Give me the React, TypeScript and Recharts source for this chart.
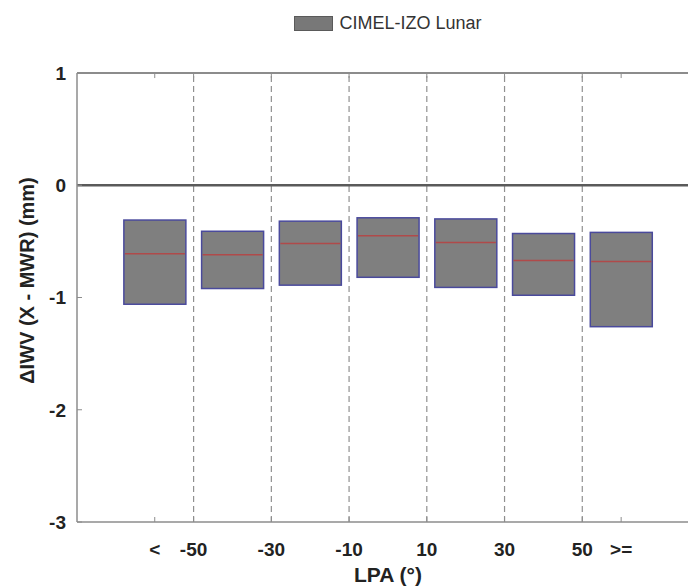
import React from "react";
import { Bar, ComposedChart, Label, Legend, ReferenceLine, XAxis, YAxis } from "recharts";

// LPA bins (centres), box edges (25th / 75th percentile) and medians, in mm
const LPA_CENTERS = [-60, -40, -20, 0, 20, 40, 60];
const BOX_LOWER = [-1.06, -0.92, -0.89, -0.82, -0.91, -0.98, -1.26];
const BOX_UPPER = [-0.31, -0.41, -0.32, -0.29, -0.3, -0.43, -0.42];
const BOX_MEDIAN = [-0.61, -0.62, -0.52, -0.45, -0.51, -0.67, -0.68];

const X_TICKS = [-60, -50, -30, -10, 10, 30, 50, 60];
const X_TICK_LABELS = ["<", "-50", "-30", "-10", "10", "30", "50", ">="];
const BIN_EDGES = [-50, -30, -10, 10, 30, 50];
const Y_TICKS = [-3, -2, -1, 0, 1];
// the original axes run to +80; the figure is cropped at ~77
const X_DOMAIN = [-80, 77.2];
const Y_DOMAIN = [-3, 1];
const SERIES_NAME = "CIMEL-IZO Lunar";

const data = LPA_CENTERS.map((lpa, i) => ({
  lpa,
  box: [BOX_LOWER[i], BOX_UPPER[i]],
  median: BOX_MEDIAN[i],
}));

const FONT = "'Liberation Sans', Arial, Helvetica, sans-serif";
const AXIS_COLOR = "#8c8c8c";
const TEXT_COLOR = "#222";
const TOP_TICK_LEN = 0.045; // in y units, ~5px
const CHART_W = 688;

const BoxShape = (props: any) => {
  const { x, y, width, height, payload } = props;
  const [lo, hi] = payload.box;
  const my = y + ((hi - payload.median) / (hi - lo)) * height;
  return (
    <g>
      <rect x={x} y={y} width={width} height={height} fill="#7f7f7f" stroke="#4a4a9c" strokeWidth={1.5} />
      <line x1={x + 1} x2={x + width - 1} y1={my} y2={my} stroke="#b04a4a" strokeWidth={1.5} />
    </g>
  );
};

// bottom axis: inward tick mark + label
const BottomTick = (props: any) => {
  const { x, y, payload } = props;
  const label = X_TICK_LABELS[X_TICKS.indexOf(payload.value)];
  return (
    <g>
      <line x1={x} x2={x} y1={y} y2={y - 5} stroke={AXIS_COLOR} strokeWidth={1} />
      <text x={x} y={y + 34} textAnchor="middle" fontFamily={FONT} fontSize={19} fontWeight="bold" fill={TEXT_COLOR}>
        {label}
      </text>
    </g>
  );
};

const LeftTick = (props: any) => {
  const { x, y, payload } = props;
  return (
    <g>
      <line x1={x} x2={x + 5} y1={y} y2={y} stroke={AXIS_COLOR} strokeWidth={1} />
      <text x={x - 11} y={y} dy="0.36em" textAnchor="end" fontFamily={FONT} fontSize={19} fontWeight="bold" fill={TEXT_COLOR}>
        {payload.value}
      </text>
    </g>
  );
};

// y title, plus the top edge of the axes box drawn from the axis frame
const YTitle = (props: any) => {
  const { viewBox } = props;
  const cx = viewBox.x + 27;
  const cy = viewBox.y + viewBox.height / 2 - 17;
  const right = viewBox.x + viewBox.width;
  return (
    <g>
      <line x1={right} x2={CHART_W} y1={viewBox.y} y2={viewBox.y} stroke={AXIS_COLOR} strokeWidth={1.5} />
      <text
        x={cx}
        y={cy}
        transform={`rotate(-90, ${cx}, ${cy})`}
        textAnchor="middle"
        dominantBaseline="central"
        fontFamily={FONT}
        fontSize={20}
        fontWeight="bold"
        fill={TEXT_COLOR}
      >
        ΔIWV (X - MWR) (mm)
      </text>
    </g>
  );
};

const XTitle = (props: any) => {
  const { viewBox } = props;
  return (
    <text
      x={viewBox.x + 311}
      y={viewBox.y + 60}
      textAnchor="middle"
      fontFamily={FONT}
      fontSize={21}
      fontWeight="bold"
      fill={TEXT_COLOR}
    >
      LPA (°)
    </text>
  );
};

const LegendBox = (props: any) => {
  const item = props.payload?.[0];
  return (
    <div style={{ marginLeft: 77, width: 622, display: "flex", justifyContent: "center", alignItems: "center" }}>
      <span style={{ display: "inline-block", width: 37, height: 13, background: "#787878", border: "1px solid #5a5a5a", marginRight: 6 }} />
      <span style={{ fontFamily: FONT, fontSize: 18, color: "#333" }}>{item ? item.value : SERIES_NAME}</span>
    </div>
  );
};

export default function App() {
  return (
    <div style={{ position: "absolute", top: 0, left: 0, width: 688, height: 587, overflow: "hidden", background: "#fff" }}>
      <ComposedChart width={CHART_W} height={587} data={data} margin={{ top: 73, right: 0, bottom: 0, left: 0 }}>
        <Legend
          layout="horizontal"
          verticalAlign="middle"
          align="center"
          wrapperStyle={{ top: 13, left: 0, width: CHART_W, height: 28 }}
          content={<LegendBox />}
        />
        <XAxis
          dataKey="lpa"
          type="number"
          domain={X_DOMAIN}
          allowDataOverflow
          ticks={X_TICKS}
          interval={0}
          height={65}
          tickSize={0}
          tickMargin={0}
          tickLine={false}
          axisLine={{ stroke: AXIS_COLOR, strokeWidth: 1.5 }}
          tick={<BottomTick />}
        >
          <Label content={<XTitle />} />
        </XAxis>
        <YAxis
          type="number"
          domain={Y_DOMAIN}
          ticks={Y_TICKS}
          interval={0}
          width={77}
          tickSize={0}
          tickMargin={0}
          tickLine={false}
          axisLine={{ stroke: AXIS_COLOR, strokeWidth: 1.5 }}
          tick={<LeftTick />}
        >
          <Label content={<YTitle />} />
        </YAxis>
        <ReferenceLine y={Y_DOMAIN[1]} stroke={AXIS_COLOR} strokeWidth={2} />
        {X_TICKS.map((t) => (
          <ReferenceLine
            key={`top-${t}`}
            segment={[
              { x: t, y: Y_DOMAIN[1] },
              { x: t, y: Y_DOMAIN[1] - TOP_TICK_LEN },
            ]}
            stroke={AXIS_COLOR}
            strokeWidth={1}
          />
        ))}
        {BIN_EDGES.map((edge) => (
          <ReferenceLine key={edge} x={edge} stroke="#909090" strokeWidth={1.2} strokeDasharray="6 4" />
        ))}
        <ReferenceLine y={0} stroke="#5a5a5a" strokeWidth={2.5} />
        <Bar
          dataKey="box"
          name={SERIES_NAME}
          barSize={62}
          fill="#7f7f7f"
          shape={<BoxShape />}
          isAnimationActive={false}
        />
      </ComposedChart>
    </div>
  );
}
